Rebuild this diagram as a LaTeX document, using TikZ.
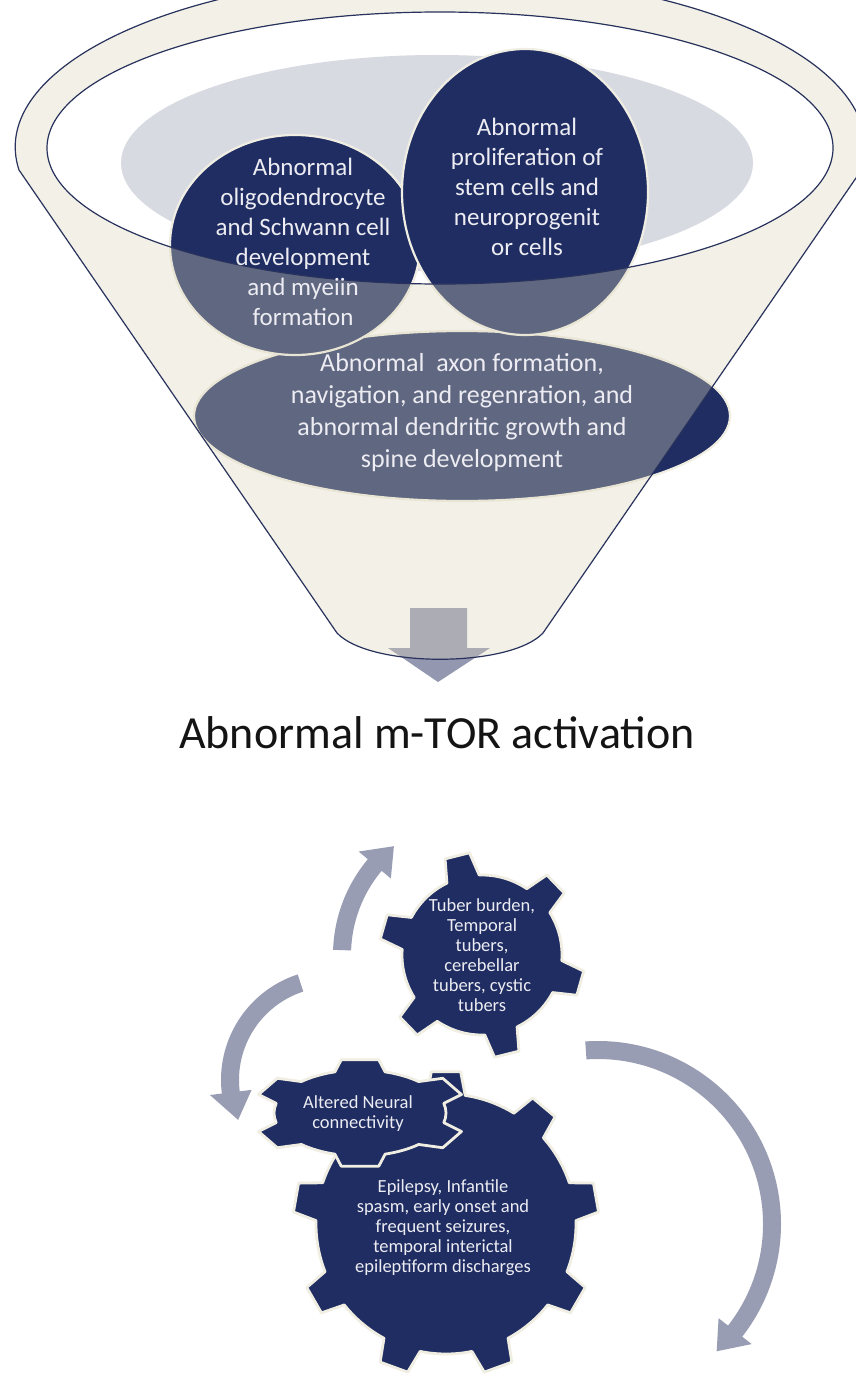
\documentclass[tikz,border=0pt]{standalone}
\usepackage{fontspec}
\setmainfont{Carlito}
\usetikzlibrary{shapes.geometric,calc}

\definecolor{navy}{RGB}{31,45,98}
\definecolor{rim}{RGB}{40,50,92}
\definecolor{cream}{RGB}{220,214,188}
\definecolor{halo}{RGB}{240,238,226}
\definecolor{mist}{RGB}{216,218,226}
\definecolor{steel}{RGB}{153,157,180}
\definecolor{pale}{RGB}{236,236,242}
\definecolor{ink}{RGB}{20,20,20}

\tikzset{
  blob/.style={ellipse, fill=navy, draw=halo, line width=2.2pt, inner sep=0pt},
  blobtext/.style={text=pale, align=center, inner sep=0pt},
  cog/.style={fill=navy, draw=halo, line width=2.8pt, line join=round},
  cogtext/.style={text=pale, align=center, inner sep=0pt, font=\fontsize{18.5}{20}\selectfont},
  funnelrim/.style={draw=rim, line width=1.2pt},
}

% gear: #1 extra scope options, #2 centre, #3 teeth, #4 angle of first tooth,
% #5 body radius, #6 tip radius, #7 half-angle at tooth root, #8 half-angle at tooth tip
\newcommand\cogwheel[8]{%
  \pgfmathsetmacro\cogstep{360/#3}%
  \begin{scope}[shift={#2},#1]
    \path[cog] ({#4-#7}:#5)
      \foreach \k in {1,...,#3}{
        -- ({#4+(\k-1)*\cogstep-#8}:#6)
        -- ({#4+(\k-1)*\cogstep+#8}:#6)
        -- ({#4+(\k-1)*\cogstep+#7}:#5)
        arc[start angle={#4+(\k-1)*\cogstep+#7}, end angle={#4+\k*\cogstep-#7}, radius=#5]
      } -- cycle;
  \end{scope}}

% curved band arrow: #1 centre, #2 radius, #3 start angle, #4 end of band, #5 tip angle
\newcommand\cyclearrow[5]{%
  \pgfmathsetmacro\bandout{#2+9}\pgfmathsetmacro\bandin{#2-9}%
  \pgfmathsetmacro\wingout{#2+21}\pgfmathsetmacro\wingin{#2-21}%
  \fill[steel] ($(#1)+(#3:\bandout)$) arc[start angle=#3, end angle=#4, radius=\bandout]
    -- ($(#1)+(#4:\wingout)$) -- ($(#1)+(#5:#2)$) -- ($(#1)+(#4:\wingin)$)
    -- ($(#1)+(#4:\bandin)$) arc[start angle=#4, end angle=#3, radius=\bandin] -- cycle;}

\begin{document}
\begin{tikzpicture}[x=1pt,y=-1pt]
\useasboundingbox (0,0) rectangle (856,1378);
\fill[white] (0,0) rectangle (856,1378);

% ---------- funnel ----------
\node[ellipse, fill=mist, inner sep=0pt, minimum width=632pt, minimum height=216pt] (mouth) at (437,163) {};
\node[blob, minimum width=536pt, minimum height=170pt] (axon) at (462,416) {};
\node[blob, minimum width=250pt, minimum height=220pt] (glia) at (295,245) {};
\node[blob, minimum width=246pt, minimum height=286pt] (stem) at (525,192) {};

% outlet arrow
\fill[steel!95!navy] (410,608) -- (467,608) -- (467,648) -- (490,648) -- (438,682)
  -- (388,648) -- (410,648) -- cycle;

% translucent funnel body with its open mouth
\fill[cream, fill opacity=0.35, even odd rule]
  (19,170) arc[start angle=172.4, end angle=367.6, x radius=425, y radius=173]
  -- (543,633) .. controls (510,668) and (370,668) .. (337,633) -- cycle
  (440,148) ellipse [x radius=393, y radius=136];
\path[funnelrim]
  (19,170) arc[start angle=172.4, end angle=367.6, x radius=425, y radius=173]
  -- (543,633) .. controls (510,668) and (370,668) .. (337,633) -- cycle;
\path[funnelrim] (440,148) ellipse [x radius=393, y radius=136];

\node[blobtext, font=\fontsize{25}{30}\selectfont] (gliatext) at (303,242)
  {Abnormal\\oligodendrocyte\\and Schwann cell\\development\\and myeiin\\formation};
\node[blobtext, font=\fontsize{25}{30}\selectfont] (stemtext) at (527,187)
  {Abnormal\\proliferation of\\stem cells and\\neuroprogenit\\or cells};
\node[blobtext, font=\fontsize{26}{32}\selectfont] (axontext) at (462,413)
  {Abnormal\ \ axon formation,\\navigation, and regenration, and\\abnormal dendritic growth and\\spine development};

% ---------- heading ----------
\node[text=ink, font=\fontsize{46}{50}\selectfont, inner sep=0pt] (mtor) at (437,733) {Abnormal m-TOR activation};

% ---------- cycle arrows ----------
\coordinate (arcA) at (482,955);
\coordinate (arcB) at (332,1080);
\coordinate (arcC) at (598,1224);
\cyclearrow{arcA}{140}{182}{220}{231}
\cyclearrow{arcB}{102}{252}{173}{157}
\cyclearrow{arcC}{174}{266}{398}{407}

% ---------- gears ----------
\cogwheel{}{(482,955)}{6}{16}{80}{103}{12}{7}
\cogwheel{}{(446,1224)}{9}{30}{130}{153}{8.5}{5.5}
\cogwheel{yscale=0.5}{(360,1113)}{6}{30}{86}{108}{17}{10}

\node[cogtext] (tubers) at (482,955)
  {Tuber burden,\\Temporal\\tubers,\\cerebellar\\tubers, cystic\\tubers};
\node[cogtext] (network) at (358,1114) {Altered Neural\\connectivity};
\node[cogtext] (seizures) at (443,1228)
  {Epilepsy, Infantile\\spasm, early onset and\\frequent seizures,\\temporal interictal\\epileptiform discharges};
\end{tikzpicture}
\end{document}
